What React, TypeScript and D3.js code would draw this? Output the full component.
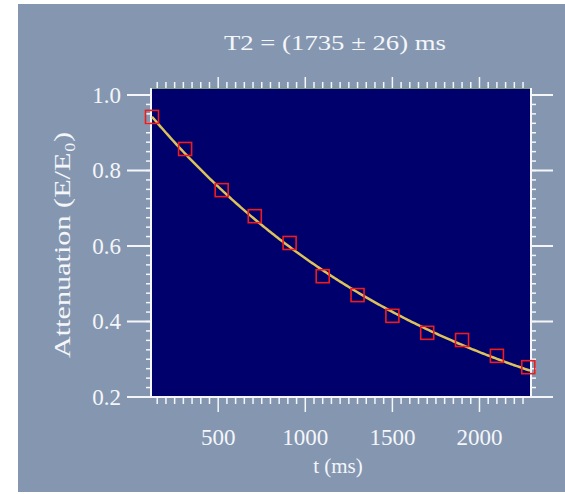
import React from "react";
import * as d3 from "d3";

// ---- data ----
const times = [120, 310, 520, 710, 910, 1100, 1300, 1500, 1700, 1900, 2100, 2280];
const attenuation = [0.942, 0.857, 0.748, 0.679, 0.608, 0.52, 0.47, 0.415, 0.37, 0.351, 0.309, 0.279];
const xTicks = [500, 1000, 1500, 2000];
const yTicks = [0.2, 0.4, 0.6, 0.8, 1.0];
const yTickLabels = ["0.2", "0.4", "0.6", "0.8", "1.0"];
const T2 = 1735;
const T2err = 26;
const amplitude = 1.01;
const titleText = `T2 = (${T2} ± ${T2err}) ms`;
const xLabel = "t (ms)";
const yLabel = "Attenuation (E/E\u2080)";

const W = 565;
const H = 494;

export default function App() {
  const x = d3.scaleLinear().domain([120, 2290]).range([152, 530]);
  const y = d3.scaleLinear().domain([0.2, 1.0]).range([397, 95]);
  const plotTop = y(1.0185);
  const plotBottom = y(0.2);
  const plotLeft = x(120);
  const plotRight = x(2290);

  const fitTimes = d3.range(120, 2291, 10);
  const line = d3
    .line<number>()
    .x((t) => x(t))
    .y((t) => y(amplitude * Math.exp(-t / T2)));

  const minorX = d3.range(150, 2290, 50);
  const minorY = d3.range(0.2, 1.0101, 0.025);

  const font = "'Liberation Serif', 'DejaVu Serif', serif";
  const white = "#f4f6fa";

  return (
    <svg
      width={W}
      height={H}
      style={{ position: "absolute", left: 0, top: 0, background: "#ffffff" }}
    >
      <rect x={18} y={4} width={W - 18} height={H - 6} fill="#8597b0" />
      <rect
        x={plotLeft}
        y={plotTop}
        width={plotRight - plotLeft}
        height={plotBottom - plotTop}
        fill="#00006c"
      />
      {/* top border */}
      <line x1={plotLeft} x2={plotRight} y1={plotTop} y2={plotTop} stroke="#7e9c86" strokeWidth={2} />

      {/* title */}
      <text
        x={335}
        y={42}
        textAnchor="middle"
        dominantBaseline="central"
        fill={white}
        fontFamily={font}
        fontSize={22}
        textLength={222}
        lengthAdjust="spacingAndGlyphs"
      >
        {titleText}
      </text>

      {/* top axis ticks */}
      {minorX.map((t) => (
        <line
          key={"tm" + t}
          x1={x(t)}
          x2={x(t)}
          y1={plotTop}
          y2={plotTop - (t % 500 === 0 ? 11 : 6)}
          stroke={white}
          strokeWidth={1.5}
        />
      ))}

      {/* bottom axis */}
      <line x1={plotLeft - 2} x2={plotRight + 2} y1={plotBottom} y2={plotBottom} stroke={white} strokeWidth={2} />
      {minorX.map((t) => (
        <line
          key={"bm" + t}
          x1={x(t)}
          x2={x(t)}
          y1={plotBottom}
          y2={plotBottom + (t % 500 === 0 ? 15 : 7)}
          stroke={white}
          strokeWidth={1.5}
        />
      ))}
      {xTicks.map((t) => (
        <text
          key={"xl" + t}
          x={x(t)}
          y={437}
          textAnchor="middle"
          dominantBaseline="central"
          fill={white}
          fontFamily={font}
          fontSize={23}
        >
          {t}
        </text>
      ))}
      <text
        x={338}
        y={466}
        textAnchor="middle"
        dominantBaseline="central"
        fill={white}
        fontFamily={font}
        fontSize={21}
      >
        {xLabel}
      </text>

      {/* left axis */}
      <line x1={plotLeft - 1} x2={plotLeft - 1} y1={plotTop} y2={plotBottom} stroke={white} strokeWidth={2} />
      {minorY.map((v, i) => (
        <line
          key={"lm" + i}
          x1={plotLeft - 6}
          x2={plotLeft}
          y1={y(v)}
          y2={y(v)}
          stroke={white}
          strokeWidth={1.5}
        />
      ))}
      {yTicks.map((v, i) => (
        <g key={"yl" + i}>
          <line x1={127} x2={plotLeft} y1={y(v)} y2={y(v)} stroke={white} strokeWidth={2} />
          <text
            x={121}
            y={y(v)}
            textAnchor="end"
            dominantBaseline="central"
            fill={white}
            fontFamily={font}
            fontSize={23}
          >
            {yTickLabels[i]}
          </text>
        </g>
      ))}
      <text
        transform={`translate(62,245) rotate(-90)`}
        textAnchor="middle"
        dominantBaseline="central"
        fill={white}
        fontFamily={font}
        fontSize={24}
        textLength={226}
        lengthAdjust="spacingAndGlyphs"
      >
        {yLabel}
      </text>

      {/* right axis */}
      <line x1={plotRight + 1} x2={plotRight + 1} y1={plotTop} y2={plotBottom} stroke={white} strokeWidth={2} />
      {minorY.map((v, i) => (
        <line
          key={"rm" + i}
          x1={plotRight}
          x2={plotRight + 6}
          y1={y(v)}
          y2={y(v)}
          stroke={white}
          strokeWidth={1.5}
        />
      ))}
      {yTicks.map((v, i) => (
        <line key={"rt" + i} x1={plotRight} x2={553} y1={y(v)} y2={y(v)} stroke={white} strokeWidth={2} />
      ))}

      {/* fit curve */}
      <path d={line(fitTimes) ?? ""} fill="none" stroke="#dcc25a" strokeWidth={2.5} />

      {/* data markers */}
      {times.map((t, i) => (
        <rect
          key={"p" + i}
          x={x(t) - 6.5}
          y={y(attenuation[i]) - 6.5}
          width={13}
          height={13}
          fill="none"
          stroke="#ee1c1c"
          strokeWidth={1.6}
        />
      ))}
    </svg>
  );
}
